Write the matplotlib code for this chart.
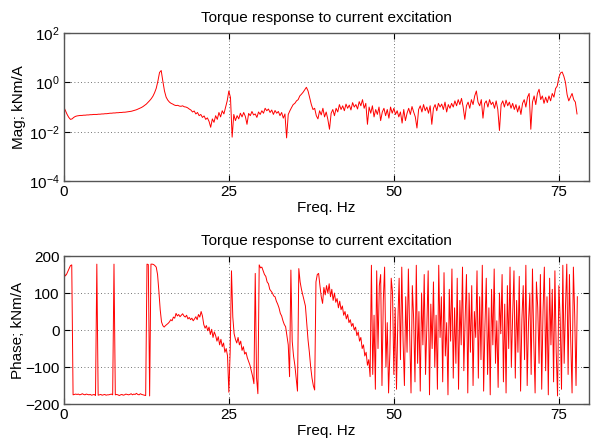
import numpy as np
import matplotlib
matplotlib.use("Agg")
import matplotlib.pyplot as plt
from matplotlib.ticker import NullLocator, FixedLocator

# Torque response to current excitation: magnitude and phase vs frequency
# values

# magnitude, log10(kNm/A), 0.25 Hz steps, one row = 2 Hz
mag_log10 = [
    -1.00, -1.15, -1.30, -1.42, -1.50, -1.48, -1.42, -1.38,   # 0
    -1.36, -1.35, -1.34, -1.34, -1.33, -1.33, -1.32, -1.32,   # 2
    -1.31, -1.31, -1.30, -1.30, -1.30, -1.29, -1.29, -1.28,   # 4
    -1.28, -1.27, -1.27, -1.26, -1.25, -1.25, -1.24, -1.24,   # 6
    -1.23, -1.23, -1.22, -1.22, -1.21, -1.21, -1.20, -1.19,   # 8
    -1.18, -1.17, -1.15, -1.13, -1.11, -1.08, -1.05, -1.02,   # 10
    -0.98, -0.93, -0.88, -0.81, -0.74, -0.66, -0.56, -0.42,   # 12
    -0.24, 0.05, 0.40, 0.48, 0.05, -0.35, -0.60, -0.72,       # 14
    -0.80, -0.85, -0.88, -0.92, -0.94, -0.93, -0.96, -0.97,   # 16
    -0.95, -0.99, -1.00, -1.03, -1.08, -1.12, -1.20, -1.16,   # 18
    -1.28, -1.22, -1.35, -1.30, -1.42, -1.36, -1.50, -1.44,   # 20
    -1.58, -1.82, -1.48, -1.62, -1.35, -1.50, -1.22, -1.40,   # 22
    -1.15, -1.28, -1.02, -0.75, -0.35, -0.62, -2.22, -1.30,   # 24
    -1.55, -1.35, -1.48, -1.25, -1.40, -1.22, -1.38, -1.70,   # 26
    -1.26, -1.35, -1.18, -1.32, -1.28, -1.42, -1.20, -1.30,   # 28
    -1.15, -1.25, -1.05, -1.15, -1.08, -1.22, -1.12, -1.30,   # 30
    -1.14, -1.25, -1.18, -1.35, -1.22, -1.45, -1.28, -2.25,   # 32
    -1.30, -1.15, -1.02, -0.90, -0.85, -0.75, -0.70, -0.55,   # 34
    -0.48, -0.40, -0.30, -0.20, -0.35, -0.62, -0.90, -1.10,   # 36
    -1.05, -1.35, -1.48, -1.15, -1.32, -1.05, -1.40, -1.20,   # 38
    -1.50, -1.90, -1.25, -1.10, -1.35, -1.05, -1.20, -0.90,   # 40
    -1.10, -0.95, -1.15, -0.88, -1.05, -0.92, -1.12, -0.82,   # 42
    -1.00, -0.90, -1.08, -0.78, -0.95, -0.70, -1.05, -0.85,   # 44
    -1.70, -1.00, -1.25, -0.95, -1.40, -1.10, -1.30, -1.00,   # 46
    -1.55, -1.20, -1.05, -1.35, -1.10, -1.45, -1.00, -1.25,   # 48
    -1.05, -1.30, -1.15, -1.40, -1.20, -1.65, -1.10, -1.55,   # 50
    -1.25, -1.05, -1.30, -0.98, -1.20, -1.40, -1.85, -1.10,   # 52
    -0.95, -1.20, -0.90, -1.15, -1.00, -1.25, -0.95, -1.70,   # 54
    -1.05, -0.90, -1.15, -0.85, -1.00, -0.88, -1.10, -0.80,   # 56
    -1.20, -0.90, -1.05, -0.85, -1.00, -0.75, -0.95, -0.70,   # 58
    -0.90, -0.65, -1.00, -1.50, -0.95, -0.80, -1.05, -0.70,   # 60
    -0.90, -0.55, -0.35, -0.80, -0.95, -0.70, -1.45, -0.85,   # 62
    -0.75, -1.00, -0.70, -0.90, -0.80, -1.05, -0.75, -1.10,   # 64
    -1.95, -0.90, -0.75, -1.00, -0.72, -0.95, -0.80, -1.05,   # 66
    -0.85, -1.10, -0.90, -1.20, -0.95, -1.30, -0.85, -0.70,   # 68
    -1.00, -0.60, -0.45, -1.90, -0.80, -0.55, -0.90, -0.45,   # 70
    -0.28, -0.70, -0.55, -0.85, -0.60, -0.82, -0.55, -0.75,   # 72
    -0.45, -0.60, -0.25, -0.15, 0.20, 0.38, 0.42, 0.25,       # 74
    0.00, -0.50, -0.75, -0.60, -0.45, -0.70, -0.80, -1.28,    # 76
]

# phase, degrees, 0.2 Hz steps, one row = 2 Hz
phase = [
    160, 146, 150, 158, 166, 174, 176, -175, -174, -173,            # 0
    -174, -173, -175, -174, -172, -174, -175, -173, -174, -175,     # 2
    -174, -176, -175, -174, -177, 178, -176, -175, -174, -176,      # 4
    -175, -174, -176, -175, -175, -174, -173, -175, 178, -175,      # 6
    -174, -175, -177, -175, -174, -176, -175, -173, -174, -175,     # 8
    -174, -172, -175, -173, -174, -171, -174, -175, -172, -174,     # 10
    -175, -176, -177, 178, 177, -178, 178, 178, 177, 174,           # 12
    170, 150, 105, 55, 22, 12, 8, 12, 15, 18,                       # 14
    22, 28, 25, 35, 32, 45, 38, 42, 36, 40,                         # 16
    44, 38, 35, 40, 30, 34, 28, 32, 25, 30,                         # 18
    36, 28, 42, 35, 50, 38, 15, 5, 12, -2,                          # 20
    8, -12, 2, -20, -5, -15, -30, -18, -40, -25,                    # 22
    -45, -35, -60, -50, -70, -168, -60, 160, 35, -10,               # 24
    -25, -35, -20, -40, -30, -55, -45, -65, -60, -75,               # 26
    -85, -95, -110, -125, -145, 153, -130, -172, 176, 168,          # 28
    170, 160, 150, 145, 130, 125, 110, 105, 100, 92,                # 30
    90, 78, 70, 60, 45, 38, 25, 15, 9, -15,                         # 32
    -40, -126, 162, -30, -70, -95, -130, -165, 166, 130,            # 34
    110, 95, 80, 65, 20, -27, -60, -100, -130, -150,                # 36
    -162, 130, 150, 153, 120, 90, 72, 115, 95, 120,                 # 38
    100, 125, 90, 110, 80, 100, 75, 85, 60, 78,                     # 40
    55, 65, 40, 50, 30, 42, 20, 28, 10, 18,                         # 42
    0, 8, -15, -5, -30, -20, -50, -40, -70, -60,                    # 44
    -95, -80, -126, 175, -120, 40, -160, 160, -50, 120,             # 46
    150, -150, 80, 170, -100, 20, -170, -60, 140, 100,              # 48
    -120, 60, -160, 20, 140, -80, 170, -30, -150, 90,               # 50
    -60, 165, -10, -170, 120, 30, -140, 175, -90, 50,               # 52
    -165, 100, -40, 150, -120, 10, 160, -175, 70, -50,              # 54
    130, -100, 40, -160, 175, -20, 90, -140, 155, -70,              # 56
    20, -175, 110, -30, 165, -130, 60, -90, 140, -160,              # 58
    80, -40, 170, -110, 30, 150, -170, 100, -60, 120,               # 60
    -150, 50, -20, 160, -130, 90, -80, 175, -165, 10,               # 62
    140, -120, 60, -175, 110, -40, 165, -90, 25, -155,              # 64
    100, -10, 150, -140, 70, -170, 120, -50, 170, -100,             # 66
    40, 160, -130, 80, -60, 145, -165, 30, 120, -80,                # 68
    175, -150, 20, 100, -120, 165, -30, -170, 130, 60,              # 70
    -90, 150, -160, 50, 170, -110, 90, -175, 140, -40,              # 72
    110, -140, 160, -60, -178, 120, 30, -160, 175, -90,             # 74
    60, 178, -120, 150, -30, -170, 170, 40, -150, 90,               # 76
]

mag_step = 0.25   # Hz
phase_step = 0.2  # Hz
title = 'Torque response to current excitation'
freq_ticks = [0, 25, 50, 75]

mag_freq = np.arange(len(mag_log10)) * mag_step
phase_freq = np.arange(len(phase)) * phase_step
mag = 10.0 ** np.array(mag_log10)

plt.rcParams['font.family'] = ['Liberation Sans', 'DejaVu Sans']
plt.rcParams['font.size'] = 11

fig = plt.figure(figsize=(5.91, 4.46), dpi=100)
ax1 = fig.add_axes([0.108, 0.594, 0.889, 0.332])
ax2 = fig.add_axes([0.108, 0.094, 0.889, 0.332])


def matlab_style(ax):
    ax.grid(True, linestyle=(0, (1, 3)), color='#444444', linewidth=0.6)
    ax.tick_params(direction='in', length=4, width=0.8, colors='black',
                   top=True, right=True, labelsize=11, pad=3)
    for s in ax.spines.values():
        s.set_color('#555555')
        s.set_linewidth(1.0)
    ax.set_xlim(0, 79.6)
    ax.xaxis.set_major_locator(FixedLocator(freq_ticks))
    ax.set_xlabel('Freq. Hz', labelpad=1)
    ax.set_title(title, fontsize=11, pad=8)


ax1.semilogy(mag_freq, mag, color='red', linewidth=0.7)
ax1.set_ylim(1e-4, 1e2)
ax1.set_yticks([1e-4, 1e-2, 1e0, 1e2])
ax1.yaxis.set_minor_locator(NullLocator())
ax1.set_ylabel('Mag; kNm/A', labelpad=2)
matlab_style(ax1)

ax2.plot(phase_freq, phase, color='red', linewidth=0.7)
ax2.set_ylim(-200, 200)
ax2.set_yticks([-200, -100, 0, 100, 200])
ax2.set_ylabel('Phase; kNm/A', labelpad=0)
matlab_style(ax2)

fig.savefig('out.png', dpi=100)
